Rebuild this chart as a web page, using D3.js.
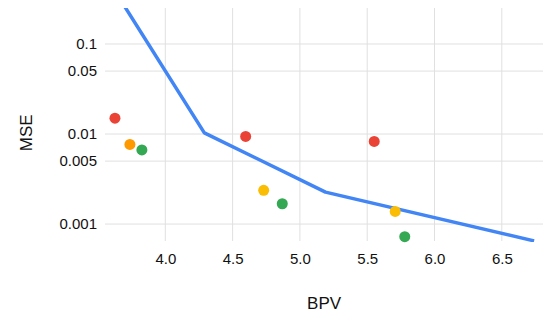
<!DOCTYPE html>
<html>
<head>
<meta charset="utf-8">
<script src="https://cdn.jsdelivr.net/npm/d3@7"></script>
<style>
  body { margin: 0; background: #fff; }
  text { font-family: "Liberation Sans", Arial, sans-serif; fill: #111; }
</style>
</head>
<body>
<div id="chart"></div>
<script>
// line series (frontier)
var lineBpv = [3.62, 4.29, 5.19, 6.74];
var lineMse = [0.40, 0.0103, 0.00226, 0.00065];

// scatter groups
var redBpv = [3.626, 4.597, 5.552];
var redMse = [0.0150, 0.0094, 0.00828];
var orangeBpv = [3.737];
var orangeMse = [0.00767];
var yellowBpv = [4.731, 5.708];
var yellowMse = [0.00237, 0.00138];
var greenBpv = [3.826, 4.869, 5.779];
var greenMse = [0.00665, 0.00168, 0.000723];

var xTicks = [4.0, 4.5, 5.0, 5.5, 6.0, 6.5];
var yTicks = [0.1, 0.05, 0.01, 0.005, 0.001];
var yTickLabels = ["0.1", "0.05", "0.01", "0.005", "0.001"];

var margin = { top: 8, right: 6, bottom: 81, left: 105 };
var width = 549, height = 322;
var w = width - margin.left - margin.right;
var h = height - margin.top - margin.bottom;

var svg = d3.select("#chart").append("svg")
    .attr("width", width)
    .attr("height", height);

var g = svg.append("g")
    .attr("transform", "translate(" + margin.left + "," + margin.top + ")");

var x = d3.scaleLinear().domain([3.552, 6.806]).range([0, w]);
var y = d3.scaleLog().domain([0.000648, 0.251]).range([h, 0]);

// grid
g.selectAll(".vgrid").data(xTicks).enter().append("line")
    .attr("x1", d => x(d)).attr("x2", d => x(d))
    .attr("y1", 0).attr("y2", h)
    .attr("stroke", "#e0e0e0");
g.selectAll(".hgrid").data(yTicks).enter().append("line")
    .attr("x1", 0).attr("x2", w)
    .attr("y1", d => y(d)).attr("y2", d => y(d))
    .attr("stroke", "#e0e0e0");

// X axis labels
var xAxis = g.append("g")
    .attr("transform", "translate(0," + h + ")")
    .call(d3.axisBottom(x).tickValues(xTicks).tickFormat(d3.format(".1f")).tickSize(0).tickPadding(12));
xAxis.select(".domain").remove();
xAxis.attr("font-size", 15).attr("font-family", "Liberation Sans, Arial, sans-serif");
xAxis.selectAll("text").attr("fill", "#111");

// Y axis labels
var yAxis = g.append("g")
    .call(d3.axisLeft(y).tickValues(yTicks).tickFormat((d, i) => yTickLabels[i]).tickSize(0).tickPadding(8));
yAxis.select(".domain").remove();
yAxis.attr("font-size", 15).attr("font-family", "Liberation Sans, Arial, sans-serif");
yAxis.selectAll("text").attr("fill", "#111");

// titles
svg.append("text")
    .attr("x", margin.left + x(5.18))
    .attr("y", 309)
    .attr("text-anchor", "middle")
    .attr("font-size", 17)
    .text("BPV");
svg.append("text")
    .attr("transform", "translate(32," + (margin.top + y(0.0103)) + ") rotate(-90)")
    .attr("text-anchor", "middle")
    .attr("font-size", 17)
    .text("MSE");

// clip
g.append("defs").append("clipPath").attr("id", "clip")
    .append("rect").attr("width", w).attr("height", h + 1);

var plot = g.append("g").attr("clip-path", "url(#clip)");

var linePts = lineBpv.map((d, i) => [d, lineMse[i]]);
plot.append("path")
    .datum(linePts)
    .attr("fill", "none")
    .attr("stroke", "#4285f4")
    .attr("stroke-width", 3.5)
    .attr("stroke-linejoin", "round")
    .attr("d", d3.line().x(d => x(d[0])).y(d => y(d[1])));

var groups = [
    { bpv: redBpv, mse: redMse, color: "#ea4335" },
    { bpv: orangeBpv, mse: orangeMse, color: "#ff9900" },
    { bpv: yellowBpv, mse: yellowMse, color: "#fbbc04" },
    { bpv: greenBpv, mse: greenMse, color: "#34a853" }
];
groups.forEach(function (grp) {
    g.selectAll(null)
        .data(grp.bpv.map((d, i) => [d, grp.mse[i]]))
        .enter().append("circle")
        .attr("cx", d => x(d[0]))
        .attr("cy", d => y(d[1]))
        .attr("r", 5.5)
        .attr("fill", grp.color);
});
</script>
</body>
</html>
